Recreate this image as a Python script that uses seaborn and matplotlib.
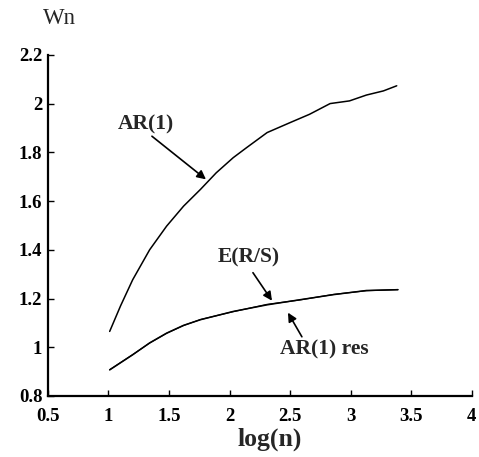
import matplotlib
matplotlib.use("Agg")
import matplotlib.pyplot as plt
import seaborn as sns
import pandas as pd

# Data
log_n = [1.01, 1.10, 1.20, 1.34, 1.48, 1.62, 1.76, 1.89, 2.03, 2.14, 2.31, 2.50, 2.66, 2.83, 2.99, 3.13, 3.27, 3.38]
ar1 = [1.065, 1.17, 1.277, 1.40, 1.497, 1.579, 1.648, 1.716, 1.778, 1.819, 1.881, 1.922, 1.956, 2.0, 2.011, 2.035, 2.052, 2.073]

log_n_low = [1.01, 1.20, 1.34, 1.48, 1.62, 1.76, 2.03, 2.31, 2.58, 2.86, 3.13, 3.39]
ers = [0.907, 0.969, 1.018, 1.058, 1.09, 1.113, 1.147, 1.174, 1.195, 1.216, 1.233, 1.236]
ar1_res = [0.908, 0.970, 1.017, 1.057, 1.089, 1.114, 1.146, 1.176, 1.194, 1.217, 1.232, 1.237]

x_ticks = [0.5, 1, 1.5, 2, 2.5, 3, 3.5, 4]
x_tick_labels = ["0.5", "1", "1.5", "2", "2.5", "3", "3.5", "4"]
y_ticks = [0.8, 1.0, 1.2, 1.4, 1.6, 1.8, 2.0, 2.2]
y_tick_labels = ["0.8", "1", "1.2", "1.4", "1.6", "1.8", "2", "2.2"]

sns.set_theme(style="ticks")
plt.rcParams['font.family'] = ['Liberation Serif', 'DejaVu Serif']

df_top = pd.DataFrame({"log_n": log_n, "Wn": ar1})
df_ers = pd.DataFrame({"log_n": log_n_low, "Wn": ers})
df_res = pd.DataFrame({"log_n": log_n_low, "Wn": ar1_res})

fig = plt.figure(figsize=(4.79, 4.57), dpi=100)
ax = fig.add_axes([0.100, 0.1335, 0.885, 0.7465])

sns.lineplot(data=df_top, x="log_n", y="Wn", ax=ax, color="black", linewidth=1.1)
sns.lineplot(data=df_ers, x="log_n", y="Wn", ax=ax, color="black", linewidth=1.1)
sns.lineplot(data=df_res, x="log_n", y="Wn", ax=ax, color="black", linewidth=0.9)

ax.set_xlim(0.5, 4)
ax.set_ylim(0.8, 2.2)
ax.set_xticks(x_ticks)
ax.set_xticklabels(x_tick_labels, fontweight="bold", fontsize=13.5)
ax.set_yticks(y_ticks)
ax.set_yticklabels(y_tick_labels, fontweight="bold", fontsize=13.5)
ax.tick_params(direction="in", length=4, width=1, colors="black")
ax.tick_params(axis="x", pad=9)
ax.tick_params(axis="y", pad=4)
for s in ["top", "right"]:
    ax.spines[s].set_visible(False)
for s in ["left", "bottom"]:
    ax.spines[s].set_linewidth(1.6)
    ax.spines[s].set_color("black")

ax.set_xlabel("log(n)", fontweight="bold", fontsize=18.5)
ax.xaxis.set_label_coords(0.524, -0.092)
ax.set_ylabel("")
fig.text(43 / 479, 1 - 18 / 457, "Wn", fontsize=16.5, ha="left", va="center")

arrow = dict(arrowstyle="-|>", color="black", lw=1.2, mutation_scale=13,
             shrinkA=0, shrinkB=0)
label_kw = dict(fontsize=15.5, fontweight="bold", ha="center", va="center")

ax.text(1.313, 1.915, "AR(1)", **label_kw)
ax.annotate("", xy=(1.805, 1.689), xytext=(1.359, 1.866), arrowprops=arrow)
ax.text(2.156, 1.368, "E(R/S)", **label_kw)
ax.annotate("", xy=(2.35, 1.191), xytext=(2.193, 1.306), arrowprops=arrow)
ax.text(2.779, 0.989, "AR(1) res", **label_kw)
ax.annotate("", xy=(2.482, 1.142), xytext=(2.597, 1.043), arrowprops=arrow)

fig.savefig("out.png", dpi=100)
